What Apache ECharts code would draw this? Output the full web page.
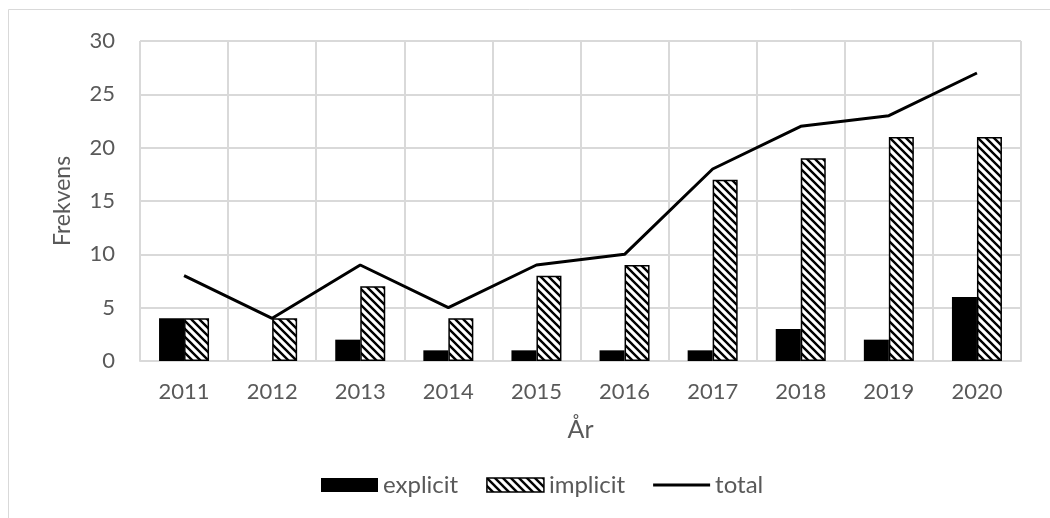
<!DOCTYPE html>
<html>
<head>
<meta charset="utf-8">
<script src="https://cdn.jsdelivr.net/npm/echarts@6/dist/echarts.min.js"></script>
<style>
html,body{margin:0;padding:0;background:#fff;}
#c{width:1050px;height:518px;}
</style>
</head>
<body>
<div id="c"></div>
<script>
var categories = ['2011','2012','2013','2014','2015','2016','2017','2018','2019','2020'];
var explicitValues = [4, 0, 2, 1, 1, 1, 1, 3, 2, 6];
var implicitValues = [4, 4, 7, 4, 8, 9, 17, 19, 21, 21];
var totalValues = [8, 4, 9, 5, 9, 10, 18, 22, 23, 27];
var yTicks = [0, 5, 10, 15, 20, 25, 30];

function makeHatch() {
  var cv = document.createElement('canvas');
  cv.width = 8; cv.height = 8;
  var ctx = cv.getContext('2d');
  ctx.fillStyle = '#fff';
  ctx.fillRect(0, 0, 8, 8);
  ctx.strokeStyle = '#000';
  ctx.lineWidth = 2.4;
  ctx.beginPath();
  for (var x0 = -8; x0 <= 8; x0 += 8) {
    ctx.moveTo(x0 - 1, -1);
    ctx.lineTo(x0 + 9, 9);
  }
  ctx.stroke();
  return cv;
}
var hatch = { image: makeHatch(), repeat: 'repeat' };

var font = 'Lato';
var grey = '#595959';
var chart = echarts.init(document.getElementById('c'), null, { renderer: 'canvas' });
chart.setOption({
  animation: false,
  backgroundColor: '#fff',
  textStyle: { fontFamily: font },
  graphic: [{
    type: 'rect',
    shape: { x: 8.5, y: 9.5, width: 1200, height: 700 },
    style: { fill: 'none', stroke: '#d9d9d9', lineWidth: 1 },
    silent: true, z: -10
  }],
  grid: { left: 140, right: 29, top: 41, bottom: 157 },
  legend: {
    top: 468,
    left: 316,
    itemWidth: 57,
    itemHeight: 14,
    itemGap: 28,
    symbolKeepAspect: true,
    textStyle: { fontFamily: font, fontSize: 24, color: grey },
    data: [
      { name: 'explicit', icon: 'rect' },
      { name: 'implicit', icon: 'rect', itemStyle: { borderColor: '#000', borderWidth: 1.5 } },
      { name: 'total', icon: 'path://M0,0 L57,0 L57,3 L0,3 Z', itemStyle: { color: '#000', borderWidth: 0 } }
    ]
  },
  xAxis: {
    type: 'category',
    data: categories,
    name: 'År',
    nameLocation: 'middle',
    nameGap: 56,
    nameTextStyle: { fontFamily: font, fontSize: 25, color: grey },
    axisLine: { show: true, lineStyle: { color: '#d9d9d9', width: 2 } },
    axisTick: { show: false },
    axisLabel: { fontFamily: font, fontSize: 22, color: grey, margin: 20 },
    splitLine: { show: true, lineStyle: { color: '#d9d9d9', width: 2 } }
  },
  yAxis: {
    type: 'value',
    min: yTicks[0],
    max: yTicks[yTicks.length - 1],
    interval: 5,
    name: 'Frekvens',
    nameLocation: 'middle',
    nameGap: 66,
    nameTextStyle: { fontFamily: font, fontSize: 23, color: grey },
    axisLine: { show: false },
    axisTick: { show: false },
    axisLabel: { fontFamily: font, fontSize: 22, color: grey, margin: 25 },
    splitLine: { show: true, lineStyle: { color: '#d9d9d9', width: 2 } }
  },
  series: [
    {
      name: 'explicit',
      type: 'bar',
      data: explicitValues,
      barWidth: 25,
      barGap: '0%',
      itemStyle: { color: '#000', borderWidth: 0 }
    },
    {
      name: 'implicit',
      type: 'bar',
      data: implicitValues,
      barWidth: 25,
      barGap: '0%',
      itemStyle: { color: hatch, borderColor: '#000', borderWidth: 1.5 }
    },
    {
      name: 'total',
      type: 'line',
      data: totalValues,
      symbol: 'none',
      z: 5,
      lineStyle: { color: '#000', width: 3 },
      itemStyle: { color: '#000' }
    }
  ]
});
</script>
</body>
</html>
